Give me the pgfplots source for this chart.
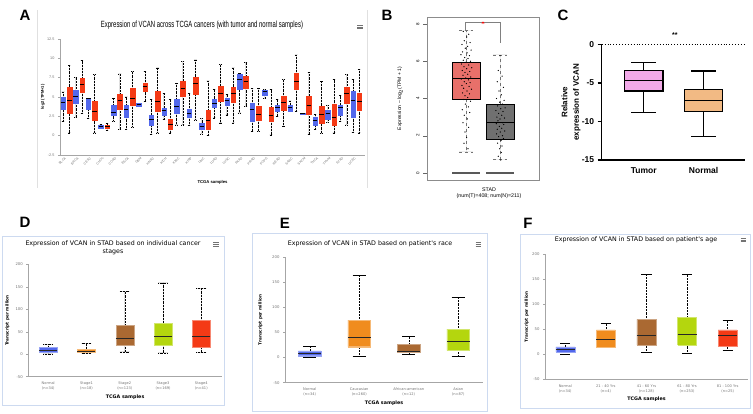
\documentclass[border=0pt]{standalone}
\usepackage{pgfplots}
\pgfplotsset{compat=1.18}
\usepgfplotslibrary{statistics}
\usepackage{fontspec}
\setmainfont{Liberation Sans}
\newfontfamily\dejavu{DejaVu Sans}

\definecolor{ublue}{RGB}{82,104,236}
\definecolor{ured}{RGB}{244,58,22}
\definecolor{uorange}{RGB}{240,140,30}
\definecolor{ubrown}{RGB}{170,105,50}
\definecolor{ugreen}{RGB}{180,214,14}
\definecolor{gred}{RGB}{232,112,106}
\definecolor{ggrey}{RGB}{112,112,112}
\definecolor{cpink}{RGB}{242,170,232}
\definecolor{corange}{RGB}{242,186,132}
\definecolor{frameblue}{RGB}{205,218,240}

\newcommand{\fs}[1]{\fontsize{#1}{#1}\selectfont}

% vertical boxes everywhere
\pgfplotsset{boxplot/draw direction=y}

% one box from its five numbers: [opts]{colour}{position}{lw}{q1}{median}{q3}{uw}
\newcommand{\bx}[8][]{%
  \addplot[fill=#2, draw=#2, #1,
    boxplot prepared={draw position=#3, lower whisker=#4, lower quartile=#5,
      median=#6, upper quartile=#7, upper whisker=#8}] coordinates {};}

% plain-path boxes: whiskers {x}{cap left}{cap right}{lw}{q1}{q3}{uw}
\newcommand{\wh}[7]{%
  \addplot[black, densely dotted, line width=0.45pt] coordinates {(#1,#4) (#1,#5)};
  \addplot[black, densely dotted, line width=0.45pt] coordinates {(#1,#6) (#1,#7)};
  \addplot[black, line width=0.5pt] coordinates {(#2,#4) (#3,#4)};
  \addplot[black, line width=0.5pt] coordinates {(#2,#7) (#3,#7)};}
% box {colour}{left}{right}{q1}{median}{q3}
\newcommand{\bb}[6]{%
  \addplot[fill=#1, draw=#1!60!white] coordinates {(#2,#4) (#3,#4) (#3,#6) (#2,#6) (#2,#4)};
  \addplot[black!85, line width=0.9pt] coordinates {(#2,#5) (#3,#5)};}

\newcommand{\menuicon}[2]{%
  \draw[black!55, line width=0.8pt] ({#1pt-2.6pt},{#2pt-1.7pt}) -- ({#1pt+2.6pt},{#2pt-1.7pt});
  \draw[black!55, line width=0.8pt] ({#1pt-2.6pt},{#2pt}) -- ({#1pt+2.6pt},{#2pt});
  \draw[black!55, line width=0.8pt] ({#1pt-2.6pt},{#2pt+1.7pt}) -- ({#1pt+2.6pt},{#2pt+1.7pt});}

\pgfplotsset{
  ual/.style={
    scale only axis, clip=false,
    axis x line*=bottom, axis y line*=left,
    axis line style={draw=black!35, line width=0.5pt, -},
    tick align=outside, major tick length=2pt,
    ytick style={draw=black!35, line width=0.4pt},
    xtick style={draw=none},
    ticklabel style={text=black!55},
    /pgf/number format/assume math mode=true,
    boxplot/draw direction=y,
    boxplot/every whisker/.style={black, densely dotted, line width=0.45pt},
    boxplot/every median/.style={black!85, line width=0.9pt},
  },
}

\begin{document}
\begin{tikzpicture}
\useasboundingbox (0pt,0pt) rectangle (753pt,414pt);

% ---------------- A ----------------
\draw[black!12, line width=0.8pt] (37pt,404pt) -- (37pt,226pt);
\draw[black!12, line width=0.8pt] (367pt,404pt) -- (367pt,226pt);
\node[font=\bfseries\fs{15}] at (25pt,399pt) {A};
\node[font=\fs{9}] at (202pt,389pt) {\scalebox{0.66}[1]{Expression of VCAN across TCGA cancers (with tumor and normal samples)}};
\menuicon{360}{387}
\begin{axis}[ual, at={(60pt,259pt)}, width=305pt, height=116pt,
  xmin=-0.5, xmax=47.9, ymin=-2.5, ymax=12.5,
  ytick={-2.5,0,2.5,5,7.5,10,12.5},
  xtick={0.5,2.5,...,46.5},
  xticklabels={BLCA,BRCA,CESC,CHOL,COAD,ESCA,GBM,HNSC,KICH,KIRC,KIRP,LIHC,LUAD,LUSC,PAAD,PRAD,PCPG,READ,SARC,SKCM,THCA,THYM,STAD,UCEC},
  xticklabel style={rotate=45, anchor=east, inner sep=1pt, font=\fs{3.3}},
  yticklabel style={font=\fs{3.8}},
  ylabel={log2 (TPM+1)},
  ylabel style={font=\bfseries\fs{4}, text=black, at={(axis description cs:-0.056,0.5)}, anchor=center},
  xlabel={TCGA samples},
  xlabel style={font=\bfseries\fs{4.2}, text=black, at={(axis description cs:0.5,-0.233)}, anchor=center},
  boxplot/box extend=0.72, boxplot/whisker extend=0.45,
  boxplot/every median/.style={black, line width=1pt},
]
\bx{ublue}{0}{1.85}{3.36}{4.35}{5.0}{5.65}
\bx{ured}{1}{0.35}{2.85}{4.5}{6.3}{9.1}
\bx{ublue}{2}{2.4}{4.2}{5.0}{5.9}{7.5}
\bx{ured}{3}{2.85}{5.6}{6.6}{7.4}{9.7}
\bx{ublue}{4}{2.2}{3.45}{4.75}{4.8}{4.85}
\bx{ured}{5}{0.35}{1.95}{3.15}{4.4}{7.9}
\bx{ublue}{6}{0.9}{1.0}{1.15}{1.35}{1.45}
\bx{ured}{7}{0.7}{0.95}{1.15}{1.3}{1.6}
\bx{ublue}{8}{1.85}{2.6}{3.05}{3.9}{4.85}
\bx{ured}{9}{0.8}{3.4}{4.6}{5.3}{8.0}
\bx{ublue}{10}{0.8}{2.4}{3.35}{3.9}{5.0}
\bx{ured}{11}{1.1}{3.9}{4.85}{6.15}{8.3}
\bx{ublue}{12}{3.8}{3.85}{4.0}{4.15}{4.2}
\bx{ured}{13}{4.45}{5.7}{6.3}{6.8}{8.3}
\bx{ublue}{14}{0.2}{1.4}{2.15}{2.7}{4.65}
\bx{ured}{15}{0.35}{3.15}{4.45}{5.7}{8.75}
\bx{ublue}{16}{2.15}{2.7}{3.2}{3.6}{5.5}
\bx{ured}{17}{0.35}{0.85}{1.5}{2.15}{4.65}
\bx{ublue}{18}{1.4}{2.9}{3.8}{4.65}{6.8}
\bx{ured}{19}{1.4}{5.1}{6.15}{7.1}{9.6}
\bx{ublue}{20}{1.3}{2.35}{2.85}{3.45}{5.5}
\bx{ured}{21}{2.05}{5.4}{6.7}{7.6}{9.8}
\bx{ublue}{22}{0.25}{0.8}{1.2}{1.65}{2.2}
\bx{ured}{23}{0.0}{0.8}{2.0}{3.25}{7.1}
\bx{ublue}{24}{2.3}{3.7}{4.2}{4.75}{5.95}
\bx{ured}{25}{1.65}{4.5}{5.5}{6.45}{9.2}
\bx{ublue}{26}{2.7}{3.9}{4.5}{4.85}{5.3}
\bx{ured}{27}{1.65}{4.3}{5.4}{6.3}{8.75}
\bx{ublue}{28}{2.95}{5.95}{7.3}{8.0}{8.1}
\bx{ured}{29}{3.8}{6.15}{7.0}{7.65}{9.5}
\bx{ublue}{30}{0.55}{1.85}{3.35}{4.2}{6.15}
\bx{ured}{31}{0.55}{2.0}{2.8}{3.8}{6.15}
\bx{ublue}{32}{4.8}{5.2}{5.75}{5.9}{5.95}
\bx{ured}{33}{0.1}{1.85}{2.6}{3.65}{6.0}
\bx{ublue}{34}{2.5}{3.2}{3.6}{4.0}{4.7}
\bx{ured}{35}{1.2}{3.35}{4.25}{5.1}{7.25}
\bx{ublue}{36}{3.1}{3.2}{3.7}{4.0}{4.5}
\bx{ured}{37}{3.1}{6.0}{7.0}{8.1}{10.45}
\bx{ublue}{38}{2.78}{2.81}{2.85}{2.89}{2.92}
\bx{ured}{39}{0.2}{2.75}{3.95}{5.15}{8.2}
\bx{ublue}{40}{0.85}{1.4}{2.0}{2.4}{2.75}
\bx{ured}{41}{0.3}{1.55}{2.7}{3.85}{7.05}
\bx{ublue}{42}{1.7}{2.15}{2.82}{3.3}{3.9}
\bx{ured}{43}{0.35}{1.4}{2.4}{4.05}{7.25}
\bx{ublue}{44}{1.85}{2.7}{3.65}{4.0}{5.2}
\bx{ured}{45}{1.4}{4.2}{5.4}{6.27}{7.9}
\bx{ublue}{46}{0.45}{2.4}{4.5}{5.7}{7.25}
\bx{ured}{47}{0.35}{3.3}{4.4}{5.5}{8.6}
\end{axis}

% ---------------- B ----------------
\node[font=\bfseries\fs{15}] at (387pt,399pt) {B};
\begin{axis}[scale only axis, clip=false, at={(427pt,234pt)}, width=112pt, height=163pt,
  xmin=-0.147, xmax=3.147, ymin=-0.376, ymax=8.376,
  axis line style={black!45, line width=0.5pt},
  xtick=\empty, ytick={0,2,4,6,8}, ytick pos=left,
  tick align=outside, major tick length=4pt,
  ytick style={black!60, line width=0.4pt},
  yticklabel style={rotate=90, anchor=south, font=\fs{4.5}},
  /pgf/number format/assume math mode=true,
  ylabel={Expression -- log$_2$(TPM + 1)},
  ylabel style={font=\fs{5}, at={(axis description cs:-0.24,0.5)}, anchor=center},
  boxplot/draw direction=y,
  boxplot/every whisker/.style={black!55, dashed, line width=0.4pt},
  boxplot/box extend=0.82, boxplot/whisker extend=0.4,
  boxplot/every median/.style={black, line width=0.7pt},
]
\bx[draw=black, line width=0.4pt]{gred}{1}{1.13}{3.96}{5.07}{5.95}{7.65}
\bx[draw=black, line width=0.4pt]{ggrey}{2}{0.75}{1.84}{2.7}{3.69}{6.34}
\addplot[black!65, line width=1.1pt] coordinates {(0.59,0) (1.41,0)};
\addplot[black!65, line width=1.1pt] coordinates {(1.59,0) (2.41,0)};
\addplot[only marks, mark=*, mark size=0.35pt, black] coordinates {
(0.92,7.6) (1.08,7.45) (1.02,7.3) (0.95,7.1) (1.12,7.0) (0.88,6.9) (1.05,6.8) (0.98,6.7)
(1.15,6.6) (0.9,6.5) (1.03,6.45) (0.85,6.35) (1.1,6.3) (0.96,6.2) (1.06,6.15) (0.92,6.05)
(1.13,6.0) (1.0,5.95) (0.87,5.85) (1.08,5.8) (0.94,5.7) (1.17,5.65) (1.02,5.6) (0.89,5.5)
(1.11,5.45) (0.97,5.4) (1.05,5.3) (0.91,5.25) (1.14,5.15) (0.99,5.1) (0.86,5.05) (1.07,5.0)
(0.95,4.9) (1.12,4.85) (1.01,4.8) (0.88,4.7) (1.09,4.65) (0.93,4.55) (1.16,4.5) (1.03,4.4)
(0.9,4.3) (1.1,4.25) (0.97,4.15) (1.05,4.05) (0.92,3.95) (1.13,3.85) (0.98,3.7) (1.07,3.55)
(0.89,3.4) (1.11,3.25) (0.95,3.1) (1.04,2.9) (0.91,2.7) (1.08,2.45) (0.97,2.2) (1.02,1.9)
(0.94,1.6) (1.06,1.3)
(2.0,6.3) (1.95,5.5) (2.06,5.2) (1.92,4.9) (2.1,4.6) (1.97,4.4) (2.04,4.2) (1.9,4.0)
(2.12,3.9) (1.99,3.8) (2.07,3.7) (1.93,3.6) (2.15,3.5) (2.02,3.45) (1.88,3.35) (2.09,3.3)
(1.96,3.2) (2.05,3.1) (1.91,3.0) (2.13,2.95) (2.0,2.9) (1.94,2.8) (2.08,2.7) (1.89,2.65)
(2.11,2.6) (1.98,2.5) (2.05,2.4) (1.92,2.35) (2.14,2.25) (2.01,2.2) (1.9,2.1) (2.07,2.0)
(1.96,1.95) (2.1,1.85) (2.03,1.75) (1.93,1.6) (2.06,1.45) (1.99,1.3) (2.04,1.1) (1.95,0.9)
(2.02,0.7)};
\addplot[black!50, line width=0.4pt] coordinates {(0.97,7.68) (0.97,8.07) (2.0,8.07) (2.0,6.96)};
\addplot[only marks, mark=asterisk, mark size=1.4pt, red] coordinates {(1.5,8.07)};
\end{axis}
\node[font=\fs{5.3}] at (489pt,224.7pt) {STAD};
\node[font=\fs{5.3}] at (489pt,218pt) {(num(T)=408; num(N)=211)};

% ---------------- C ----------------
\node[font=\bfseries\fs{15}] at (563pt,399pt) {C};
\begin{axis}[scale only axis, clip=false, at={(601.7pt,254pt)}, width=143.3pt, height=115.7pt,
  xmin=0.3, xmax=2.69, ymin=-15, ymax=0,
  axis x line*=bottom, axis y line*=left,
  axis line style={black, line width=1.3pt, -},
  xtick={1,2}, xticklabels={Tumor,Normal}, xtick style={draw=none},
  ytick={-15,-10,-5,0}, ytick style={black, line width=1.3pt},
  tick align=outside, major tick length=4pt,
  ticklabel style={font=\bfseries\fs{8.5}},
  /pgf/number format/assume math mode=true,
  ylabel={Relative\\expression of VCAN},
  ylabel style={align=center, font=\bfseries\fontsize{8}{11.5}\selectfont, at={(axis description cs:-0.214,0.5)}, anchor=center},
  boxplot/draw direction=y,
  boxplot/box extend=0.64, boxplot/whisker extend=0.42,
  boxplot/every median/.style={black, line width=1.3pt},
]
\addplot[black, dotted, line width=0.9pt] coordinates {(0.3,0) (2.69,0)};
\bx[draw=black, line width=1.3pt]{cpink}{1}{-8.8}{-6.05}{-4.65}{-3.4}{-2.33}
\bx[draw=black, line width=1.3pt]{corange}{2}{-11.95}{-8.75}{-7.3}{-5.87}{-3.45}
\node[font=\bfseries\fs{7}] at (axis cs:1.52,0) [yshift=9pt] {**};
\end{axis}

% ---------------- D ----------------
\draw[frameblue, line width=0.8pt] (2.7pt,9pt) rectangle (224pt,177.3pt);
\node[font=\bfseries\fs{15}] at (25pt,192pt) {D};
\node[font=\dejavu\fs{6.3}] at (113pt,170.7pt) {Expression of VCAN in STAD based on individual cancer};
\node[font=\dejavu\fs{6.3}] at (113pt,162.3pt) {stages};
\menuicon{216}{169.7}
\begin{axis}[ual, at={(28.3pt,37.3pt)}, width=193.7pt, height=112.4pt,
  xmin=-0.52, xmax=4.54, ymin=-50, ymax=200, ytick={-50,0,50,100,150,200},
  xtick={0,1,2,3,4},
  xticklabels={{Normal\\(n=34)},{Stage1\\(n=18)},{Stage2\\(n=123)},{Stage3\\(n=169)},{Stage4\\(n=41)}},
  xticklabel style={align=center, font=\dejavu\fontsize{3.6}{4.6}\selectfont},
  yticklabel style={font=\dejavu\fs{3.8}},
  ylabel={Transcript per million},
  ylabel style={font=\dejavu\bfseries\fs{4.2}, text=black, at={(axis description cs:-0.108,0.5)}, anchor=center},
  xlabel={TCGA samples},
  xlabel style={font=\dejavu\bfseries\fs{4.8}, text=black, at={(axis description cs:0.5,-0.178)}, anchor=center},
  boxplot/box extend=0.47, boxplot/whisker extend=0.26,
]
\bx[draw=ublue!60!white]{ublue}{0}{0.5}{4}{9}{15}{22}
\bx[draw=uorange!60!white]{uorange}{1}{2}{4}{7}{12}{24}
\bx[draw=ubrown!60!white]{ubrown}{2}{5}{20}{35}{64}{140}
\bx[draw=ugreen!60!white]{ugreen}{3}{3}{20}{40}{70}{159}
\bx[draw=ured!60!white]{ured}{4}{4}{16}{40}{76}{147}
\end{axis}

% ---------------- E ----------------
\draw[frameblue, line width=0.8pt] (252.7pt,2.3pt) rectangle (487.3pt,181pt);
\node[font=\bfseries\fs{15}] at (285pt,190.7pt) {E};
\node[font=\dejavu\fs{6.3}] at (370pt,170.7pt) {Expression of VCAN in STAD based on patient's race};
\menuicon{478.3}{169.7}
\begin{axis}[ual, at={(285pt,31.3pt)}, width=198pt, height=125.7pt,
  xmin=-0.5, xmax=3.5, ymin=-50, ymax=200, ytick={-50,0,50,100,150,200},
  xtick={0,1,2,3},
  xticklabels={{Normal\\(n=34)},{Caucasian\\(n=260)},{African-american\\(n=12)},{Asian\\(n=87)}},
  xticklabel style={align=center, font=\dejavu\fontsize{3.6}{4.6}\selectfont},
  yticklabel style={font=\dejavu\fs{3.8}},
  ylabel={Transcript per million},
  ylabel style={font=\dejavu\bfseries\fs{4.2}, text=black, at={(axis description cs:-0.124,0.5)}, anchor=center},
  xlabel={TCGA samples},
  xlabel style={font=\dejavu\bfseries\fs{4.8}, text=black, at={(axis description cs:0.5,-0.164)}, anchor=center},
]
\wh{0}{-0.135}{0.135}{0.5}{3.6}{13.5}{22}
\bb{ublue}{-0.23}{0.23}{3.6}{8.6}{13.5}
\wh{1}{0.865}{1.135}{3}{21.5}{74.5}{163}
\bb{uorange}{0.77}{1.23}{21.5}{40.8}{74.5}
\wh{2}{1.865}{2.135}{7}{10}{26}{42}
\bb{ubrown}{1.77}{2.23}{10}{13}{26}
\wh{3}{2.865}{3.135}{2}{14.3}{56.6}{120}
\bb{ugreen}{2.77}{3.23}{14.3}{31.5}{56.6}
\end{axis}

% ---------------- F ----------------
\draw[frameblue, line width=0.8pt] (520pt,5.7pt) rectangle (750pt,180pt);
\node[font=\bfseries\fs{15}] at (528pt,190.7pt) {F};
\node[font=\dejavu\fs{6.3}] at (636pt,174pt) {Expression of VCAN in STAD based on patient's age};
\menuicon{743.3}{174}
\begin{axis}[ual, at={(545pt,34.7pt)}, width=203pt, height=125pt,
  xmin=-0.5, xmax=4.5, ymin=-50, ymax=200, ytick={-50,0,50,100,150,200},
  xtick={0,1,2,3,4},
  xticklabels={{Normal\\(n=34)},{21 - 40 Yrs\\(n=4)},{41 - 60 Yrs\\(n=128)},{61 - 80 Yrs\\(n=253)},{81 - 100 Yrs\\(n=25)}},
  xticklabel style={align=center, font=\dejavu\fontsize{3.6}{4.6}\selectfont},
  yticklabel style={font=\dejavu\fs{3.8}},
  ylabel={Transcript per million},
  ylabel style={font=\dejavu\bfseries\fs{4.2}, text=black, at={(axis description cs:-0.09,0.5)}, anchor=center},
  xlabel={TCGA samples},
  xlabel style={font=\dejavu\bfseries\fs{4.8}, text=black, at={(axis description cs:0.5,-0.16)}, anchor=center},
]
\wh{0}{-0.125}{0.125}{0.5}{5}{15}{23}
\bb{ublue}{-0.235}{0.235}{5}{9}{15}
\wh{1}{0.875}{1.125}{14}{15}{48.6}{62}
\bb{uorange}{0.765}{1.235}{15}{30}{48.6}
\wh{2}{1.875}{2.125}{4}{18.6}{70}{160}
\bb{ubrown}{1.765}{2.235}{18.6}{38}{70}
\wh{3}{2.875}{3.125}{2}{18.6}{73.6}{160}
\bb{ugreen}{2.765}{3.235}{18.6}{40}{73.6}
\wh{4}{3.875}{4.125}{8.6}{16.6}{48.6}{68.6}
\bb{ured}{3.765}{4.235}{16.6}{38}{48.6}
\end{axis}
\end{tikzpicture}
\end{document}
